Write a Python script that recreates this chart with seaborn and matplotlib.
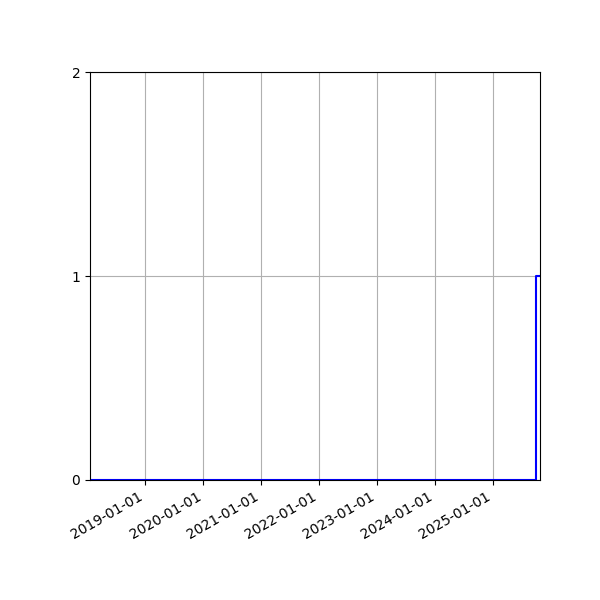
import pandas as pd
import matplotlib
matplotlib.use('Agg')
import matplotlib.pyplot as plt
import matplotlib.dates as mdates
import seaborn as sns

# Step series: count stays at 0, then goes to 1 near the end
dates = ['2018-01-16', '2025-09-28', '2025-10-25']
counts = [0, 1, 1]

df = pd.DataFrame({'date': pd.to_datetime(dates), 'count': counts})

fig, ax = plt.subplots(figsize=(6, 6), dpi=100)
sns.lineplot(data=df, x='date', y='count', ax=ax, color='blue',
             linewidth=1.5, drawstyle='steps-post')

ax.set_xlim(df['date'].min(), df['date'].max())
ax.set_ylim(0, 2)
ax.set_yticks([0, 1, 2])
ax.xaxis.set_major_locator(mdates.YearLocator())
ax.xaxis.set_major_formatter(mdates.DateFormatter('%Y-%m-%d'))
ax.set_xlabel('')
ax.set_ylabel('')
ax.grid(True)
fig.autofmt_xdate()
fig.subplots_adjust(left=0.15, right=0.9, top=0.88, bottom=0.2)
plt.savefig('out.png')
plt.close()
